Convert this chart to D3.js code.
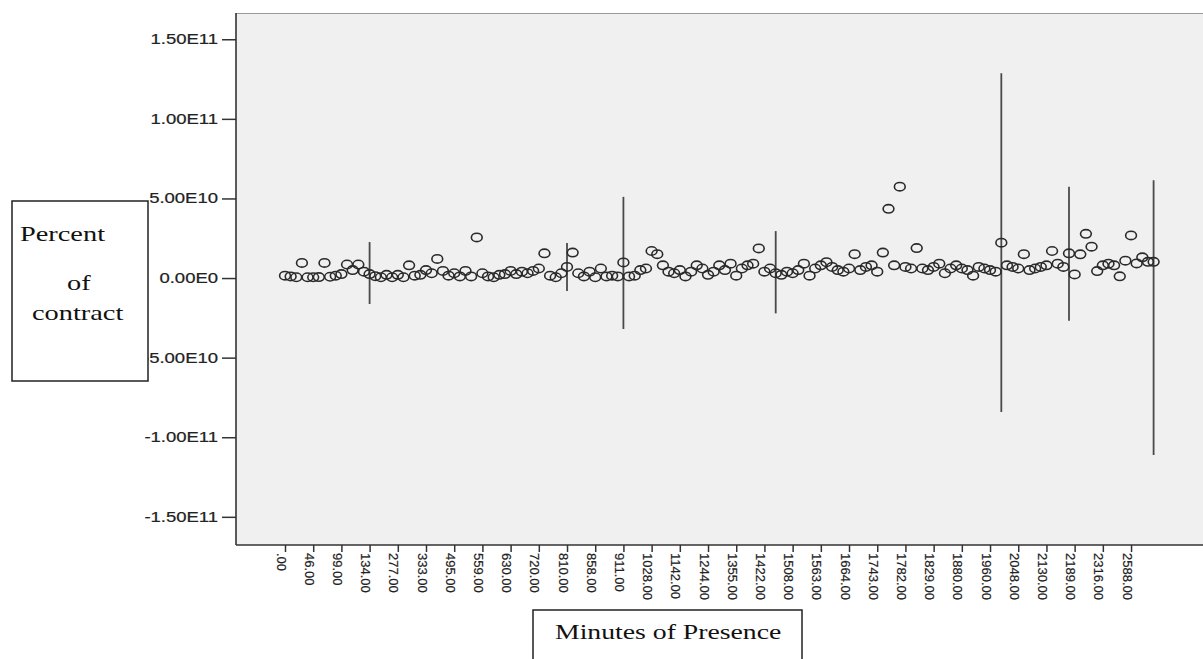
<!DOCTYPE html>
<html><head><meta charset="utf-8">
<script src="https://cdn.jsdelivr.net/npm/d3@7"></script>
<style>body{margin:0;background:#fff}</style>
</head><body>
<svg id="c" width="1203" height="659"></svg>
<script>
// ---- data ----
const tickLabels = [".00","46.00","99.00","134.00","277.00","333.00","495.00","559.00","630.00","720.00",
  "810.00","858.00","911.00","1028.00","1142.00","1244.00","1355.00","1422.00","1508.00","1563.00",
  "1664.00","1743.00","1782.00","1829.00","1880.00","1960.00","2048.00","2130.00","2189.00","2316.00","2588.00"];
const tickEvery = 5;
const yTickValues = [1.5e11, 1e11, 5e10, 0, -5e10, -1e11, -1.5e11];
const yTickLabels = ["1.50E11","1.00E11","5.00E10","0.00E0","-5.00E10","-1.00E11","-1.50E11"];
// mean percent of contract per category (units of 1E9)
const values = [
  1.5, 1, 0.5, 9.5, 0.5, 0.5, 0.6, 9.5, 0.8, 1.5, 2.5, 8.5, 5, 8.5, 4, 2.5, 1.2, 0.5, 2, 0.5, 2, 0.5, 8, 1.5, 2,
  5, 3, 12, 4.5, 1.5, 3, 1, 4.5, 1, 25.5, 3, 1, 0.5, 2, 2.5, 4.5, 2.5, 4, 3, 4.5, 6, 15.5, 1.5, 0.5, 3,
  7, 16, 3, 1, 4, 0.5, 6, 1, 1.5, 1, 9.8, 1, 1.5, 5, 6, 17, 15, 8, 4, 3, 5, 1, 4, 8, 6,
  2, 4, 8, 5, 9, 1.5, 6, 8, 9, 18.6, 4, 6, 3, 2, 4, 3, 5, 9, 1.5, 6, 8, 10, 7, 5, 4,
  6, 15, 5, 7, 8, 4, 16, 43.5, 8, 57.4, 7, 6, 18.8, 6, 5, 7, 9, 3, 6, 8, 6, 5, 1.5, 7, 6,
  5, 4, 22.2, 8, 7, 6, 15, 5, 6, 7, 8, 17, 9, 7, 15.5, 2.3, 14.9, 27.8, 19.7, 4.4, 8, 9, 8, 1.1, 10.9,
  26.8, 9.2, 13, 10.2, 10.2
];
const valueUnit = 1e9;
// high-low range lines (units of 1E9)
const barIndex = [15, 50, 60, 87, 127, 139, 154];
const barHigh  = [22.6, 22, 51, 29.5, 128.7, 57.3, 61.5];
const barLow   = [-16.3, -8.2, -32, -22.2, -84.2, -26.8, -111.2];
const yLabel = ["Percent", "of", "contract"];
const xLabel = "Minutes of Presence";

// ---- layout ----
const svg = d3.select("#c");
const plot = {left: 236, top: 13, right: 1203, bottom: 545};
const x = d3.scaleLinear().domain([0, values.length - 1]).range([285, 1153.6]);
const y = d3.scaleLinear().domain([-1.677e11, 1.665e11]).range([plot.bottom, plot.top]);

function stretch(sel, f){
  sel.each(function(){
    const w = this.getComputedTextLength();
    this.setAttribute("textLength", w * f);
    this.setAttribute("lengthAdjust", "spacingAndGlyphs");
  });
}

svg.append("rect").attr("x", plot.left).attr("y", plot.top)
  .attr("width", plot.right - plot.left).attr("height", plot.bottom - plot.top)
  .attr("fill", "#f0f0f0");
svg.append("line").attr("x1", plot.left).attr("x2", plot.right).attr("y1", plot.top + 0.5).attr("y2", plot.top + 0.5)
  .attr("stroke", "#9a9a9a").attr("stroke-width", 1);

// y axis
const yAxis = svg.append("g").attr("transform", `translate(${plot.left},0)`)
  .call(d3.axisLeft(y).tickValues(yTickValues).tickFormat((d,i)=>yTickLabels[i]).tickSize(14).tickSizeOuter(0).tickPadding(4));
yAxis.select(".domain").remove();
yAxis.selectAll(".tick line").attr("stroke", "#333").attr("stroke-width", 1.5);
yAxis.selectAll("text").attr("font-family", "'Liberation Sans', Arial, sans-serif")
  .attr("font-size", 14).attr("fill", "#222").attr("stroke", "#222").attr("stroke-width", 0.2);
stretch(yAxis.selectAll("text"), 1.32);

// x axis
const xTicks = tickLabels.map((d,i)=>i*tickEvery);
const xAxis = svg.append("g").attr("transform", `translate(0,${plot.bottom})`)
  .call(d3.axisBottom(x).tickValues(xTicks).tickFormat((d,i)=>tickLabels[i]).tickSize(7).tickSizeOuter(0));
xAxis.select(".domain").remove();
xAxis.selectAll(".tick line").attr("stroke", "#333").attr("stroke-width", 1.5);
xAxis.selectAll("text").attr("font-family", "'Liberation Sans', Arial, sans-serif")
  .attr("font-size", 13).attr("fill", "#222").attr("stroke", "#222").attr("stroke-width", 0.2)
  .attr("x", 0).attr("y", 0).attr("dy", 0).attr("text-anchor", "start")
  .attr("transform", "translate(-9,8) rotate(90)");

// axis lines
svg.append("line").attr("x1", plot.left).attr("x2", plot.left).attr("y1", plot.top).attr("y2", plot.bottom)
  .attr("stroke", "#333").attr("stroke-width", 1.6);
svg.append("line").attr("x1", plot.left).attr("x2", plot.right).attr("y1", plot.bottom).attr("y2", plot.bottom)
  .attr("stroke", "#333").attr("stroke-width", 1.6);

// range lines
svg.append("g").selectAll("line").data(barIndex).join("line")
  .attr("x1", d=>x(d)).attr("x2", d=>x(d))
  .attr("y1", (d,i)=>y(barHigh[i]*valueUnit)).attr("y2", (d,i)=>y(barLow[i]*valueUnit))
  .attr("stroke", "#4a4a4a").attr("stroke-width", 1.8);

// points
svg.append("g").selectAll("ellipse").data(values).join("ellipse")
  .attr("cx", (d,i)=>x(i)).attr("cy", d=>y(d*valueUnit))
  .attr("rx", 5.4).attr("ry", 4.2)
  .attr("fill", "none").attr("stroke", "#2a2a2a").attr("stroke-width", 1.6);

// y label box
svg.append("rect").attr("x", 12).attr("y", 201).attr("width", 136).attr("height", 180)
  .attr("fill", "#fff").attr("stroke", "#222").attr("stroke-width", 1.5);
const serif = "'Liberation Serif', 'Times New Roman', serif";
const yl = svg.append("g").selectAll("text").data(yLabel).join("text")
  .attr("x", (d,i)=>[20, 67, 32][i]).attr("y", (d,i)=>[241, 290, 320][i])
  .attr("font-family", serif).attr("font-size", 21).attr("fill", "#111").text(d=>d);
stretch(yl, 1.35);

// x label box
svg.append("rect").attr("x", 533).attr("y", 610).attr("width", 269).attr("height", 70)
  .attr("fill", "#fff").attr("stroke", "#222").attr("stroke-width", 1.5);
const xl = svg.append("text").attr("x", 555).attr("y", 639)
  .attr("font-family", serif).attr("font-size", 21).attr("fill", "#111").text(xLabel);
stretch(xl, 1.32);
</script>
</body></html>
